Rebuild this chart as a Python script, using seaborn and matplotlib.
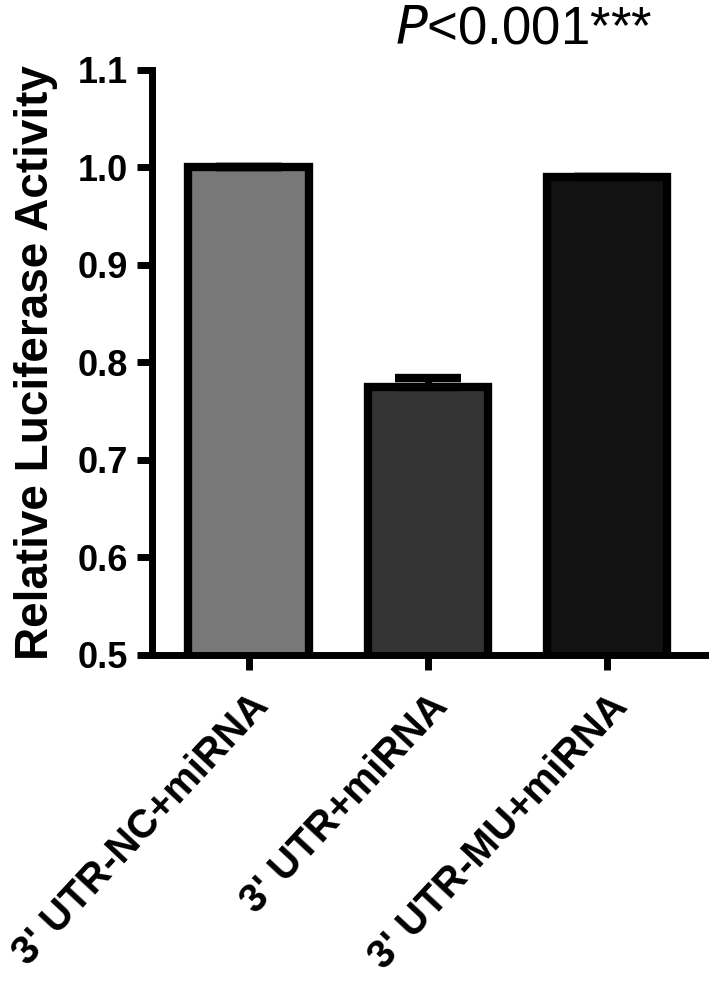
import pandas as pd
import numpy as np
import matplotlib.pyplot as plt
import matplotlib.transforms as mtransforms
import seaborn as sns

groups = ["3' UTR-NC+miRNA", "3' UTR+miRNA", "3' UTR-MU+miRNA"]
activity = [1.0, 0.775, 0.990]
err_up = [0.0, 0.009, 0.0]
bar_colors = ['#787878', '#343434', '#121212']
yticks = [0.5, 0.6, 0.7, 0.8, 0.9, 1.0, 1.1]

sns.set_theme(style='white')
plt.rcParams['font.family'] = ['Liberation Sans', 'DejaVu Sans']
plt.rcParams['text.color'] = 'black'
plt.rcParams['axes.labelcolor'] = 'black'

df = pd.DataFrame({'group': groups, 'activity': activity})

fig = plt.figure(figsize=(7.09, 9.82), dpi=100)
ax = fig.add_axes([0.214, 0.333, 0.784, 0.596])

sns.barplot(data=df, x='group', y='activity', hue='group', palette=bar_colors,
            order=groups, hue_order=groups, legend=False, width=0.67,
            edgecolor='black', linewidth=6, errorbar=None, ax=ax)

# only the upper half of the error bar, like the original
ax.errorbar(np.arange(len(groups)), activity, yerr=[np.zeros(3), err_up],
            fmt='none', ecolor='black', elinewidth=5, capsize=24, capthick=6, zorder=1)

ax.set_ylim(0.5, 1.1)
ax.set_xlim(-0.54, 2.56)
ax.set_yticks(yticks)
ax.set_yticklabels([f'{v:.1f}' for v in yticks], fontsize=26, fontweight='bold')
ax.set_xticks(range(len(groups)))
ax.set_xticklabels(groups, rotation=47, ha='right', va='top',
                   rotation_mode='anchor', fontsize=29, fontweight='bold')
shift = mtransforms.ScaledTranslation(10 / 72, 0, fig.dpi_scale_trans)
for lab in ax.get_xticklabels():
    lab.set_transform(lab.get_transform() + shift)
ax.set_xlabel('')
ax.set_ylabel('Relative Luciferase Activity', fontsize=33, fontweight='bold', labelpad=14)

sns.despine(ax=ax)
for s in ['left', 'bottom']:
    ax.spines[s].set_linewidth(5)
    ax.spines[s].set_color('black')
ax.tick_params(axis='both', which='major', direction='out', length=11, width=5,
               color='black', labelcolor='black', left=True, bottom=True, pad=6)
ax.tick_params(axis='x', pad=12)

fig.text(0.557, 0.956, '$P$<0.001***', fontsize=38, ha='left', va='baseline')

plt.savefig('out.png', dpi=100)
